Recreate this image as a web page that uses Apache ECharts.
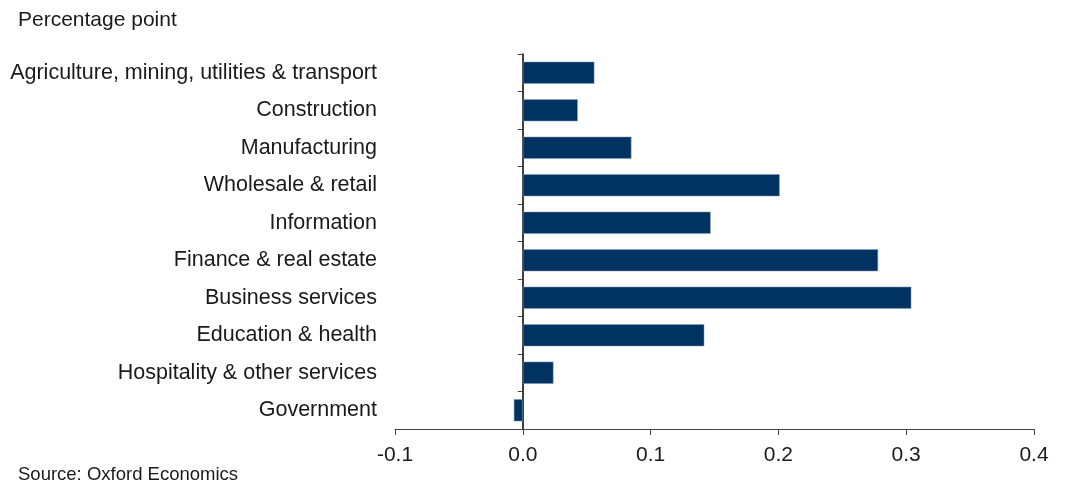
<!DOCTYPE html>
<html>
<head>
<meta charset="utf-8">
<script src="https://cdn.jsdelivr.net/npm/echarts@6/dist/echarts.min.js"></script>
<style>
  html, body { margin: 0; padding: 0; background: #ffffff; }
  #chart { width: 1067px; height: 484px; }
</style>
</head>
<body>
<div id="chart"></div>
<script>
// Sector contributions, listed top to bottom
const categories = [
  'Agriculture, mining, utilities & transport',
  'Construction',
  'Manufacturing',
  'Wholesale & retail',
  'Information',
  'Finance & real estate',
  'Business services',
  'Education & health',
  'Hospitality & other services',
  'Government'
];
const contributions = [0.056, 0.043, 0.085, 0.201, 0.147, 0.278, 0.304, 0.142, 0.024, -0.007];
const xTicks = [-0.1, 0.0, 0.1, 0.2, 0.3, 0.4];

const FONT = '"Liberation Sans", Arial, sans-serif';
const BAR = '#003362';

const chart = echarts.init(document.getElementById('chart'), null, { renderer: 'canvas' });

chart.setOption({
  animation: false,
  backgroundColor: '#ffffff',
  textStyle: { fontFamily: FONT },
  graphic: [
    { type: 'text', left: 18, top: 10,
      style: { text: 'Percentage point', font: '21px ' + FONT, fill: '#1a1a1a' } },
    { type: 'text', left: 18, top: 465,
      style: { text: 'Source: Oxford Economics', font: '18.5px ' + FONT, fill: '#1a1a1a' } }
  ],
  grid: { left: 395, right: 33, top: 54, bottom: 55, containLabel: false },
  xAxis: {
    type: 'value',
    min: xTicks[0],
    max: xTicks[xTicks.length - 1],
    interval: 0.1,
    axisLine: { show: true, onZero: false, lineStyle: { color: '#444444', width: 1 } },
    axisTick: { show: true, length: 6, lineStyle: { color: '#444444' } },
    axisLabel: { color: '#1a1a1a', fontSize: 21, margin: 16, fontFamily: FONT,
      formatter: v => v.toFixed(1) },
    splitLine: { show: false }
  },
  yAxis: [
    {
      // category labels sitting at the grid's left edge
      type: 'category',
      data: categories,
      inverse: true,
      position: 'left',
      axisLine: { show: false, onZero: false },
      axisTick: { show: false },
      axisLabel: { color: '#1a1a1a', fontSize: 21.5, margin: 18, fontFamily: FONT }
    },
    {
      // zero line with category boundary ticks
      type: 'category',
      data: categories,
      inverse: true,
      position: 'left',
      axisLine: { show: true, onZero: true, lineStyle: { color: '#000000', width: 1.5 } },
      axisTick: { show: true, length: 5, lineStyle: { color: '#444444' } },
      axisLabel: { show: false }
    }
  ],
  series: [{
    type: 'bar',
    yAxisIndex: 0,
    data: contributions,
    barCategoryGap: '41%',
    itemStyle: { color: BAR, borderColor: '#8fa3bb', borderWidth: 0.5 },
    z: 1
  }]
});
</script>
</body>
</html>
